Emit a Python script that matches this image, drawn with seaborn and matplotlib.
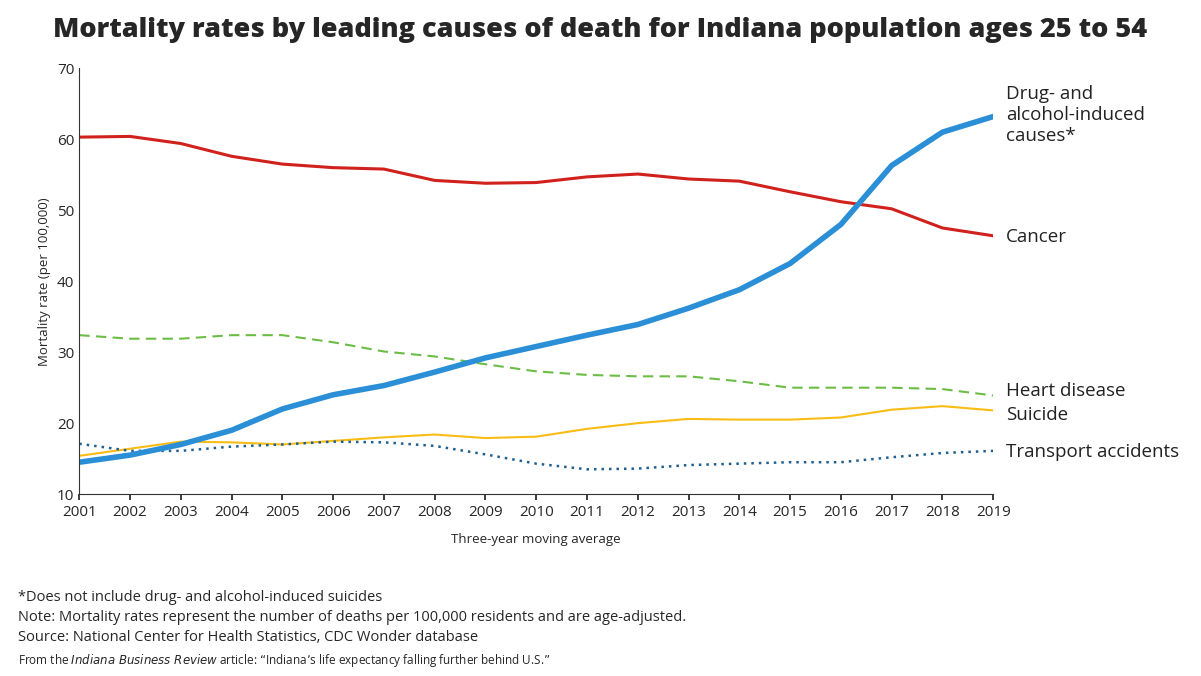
import matplotlib
matplotlib.use("Agg")
import matplotlib.pyplot as plt
import seaborn as sns

sns.set_theme(style="white")
plt.rcParams['font.family'] = ['Open Sans', 'DejaVu Sans']

years = list(range(2001, 2020))
drug = [14.5, 15.5, 17, 19, 22, 24, 25.3, 27.2, 29.2, 30.8, 32.4, 33.9, 36.2, 38.8, 42.5, 48, 56.3, 61, 63.2]
cancer = [60.3, 60.4, 59.4, 57.6, 56.5, 56, 55.8, 54.2, 53.8, 53.9, 54.7, 55.1, 54.4, 54.1, 52.6, 51.2, 50.2, 47.5, 46.4]
heart = [32.4, 31.9, 31.9, 32.4, 32.4, 31.4, 30.1, 29.4, 28.3, 27.3, 26.8, 26.6, 26.6, 25.9, 25, 25, 25, 24.8, 23.9]
suicide = [15.4, 16.4, 17.4, 17.3, 17, 17.5, 18, 18.4, 17.9, 18.1, 19.2, 20, 20.6, 20.5, 20.5, 20.8, 21.9, 22.4, 21.8]
transport = [17.1, 16.1, 16.1, 16.7, 17, 17.4, 17.3, 16.8, 15.6, 14.3, 13.5, 13.6, 14.1, 14.3, 14.5, 14.5, 15.2, 15.8, 16.1]

fig = plt.figure(figsize=(12.01, 6.76), dpi=100)
ax = fig.add_axes([0.066, 0.269, 0.761, 0.630])

series = [
    (cancer, "#d0211c", "-", 2.2, "Cancer", 46.2),
    (heart, "#6cbd45", (0, (5, 3)), 1.5, "Heart disease", 24.6),
    (suicide, "#f9bc15", "-", 1.5, "Suicide", 21.1),
    (transport, "#1f5f8f", (0, (1, 2)), 1.8, "Transport accidents", 15.9),
    (drug, "#2a8fd6", "-", 4, "Drug- and\nalcohol-induced\ncauses*", 63.4),
]
for vals, col, ls, lw, lab, ly in series:
    sns.lineplot(x=years, y=vals, ax=ax, color=col, linestyle=ls, linewidth=lw)
    ax.text(2019.25, ly, lab, fontsize=13.5, va="center", color="#222222",
            clip_on=False, linespacing=1.2)

ax.set_xlim(2001, 2019)
ax.set_ylim(10, 70)
ax.set_xticks(years)
ax.set_xticklabels([str(y) for y in years], fontsize=11)
ax.set_yticks(range(10, 71, 10))
ax.tick_params(axis='y', labelsize=11, length=0)
ax.tick_params(axis='x', length=4, direction='out', bottom=True)
for s in ["top", "right"]:
    ax.spines[s].set_visible(False)
for s in ["left", "bottom"]:
    ax.spines[s].set_color("#333333")
    ax.spines[s].set_linewidth(0.8)
ax.set_xlabel("Three-year moving average", fontsize=9.5, labelpad=10)
ax.set_ylabel("Mortality rate (per 100,000)", fontsize=9.5)

fig.text(0.5, 0.955, "Mortality rates by leading causes of death for Indiana population ages 25 to 54",
         ha="center", va="center", fontsize=19.5, fontweight="heavy")
fig.text(0.015, 0.046, "*Does not include drug- and alcohol-induced suicides\n"
         "Note: Mortality rates represent the number of deaths per 100,000 residents and are age-adjusted.\n"
         "Source: National Center for Health Statistics, CDC Wonder database",
         fontsize=10.5, va="bottom", linespacing=1.45)
fig.text(0.015, 0.010, "From the $\\it{Indiana\\ Business\\ Review}$ article: \u201cIndiana\u2019s life expectancy falling further behind U.S.\u201d",
         fontsize=8.5, va="bottom")
fig.savefig("out.png", dpi=100)
